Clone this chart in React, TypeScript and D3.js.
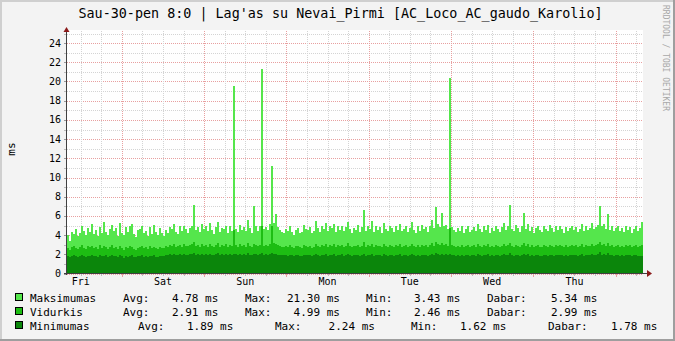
import React from "react";
import * as d3 from "d3";

const W = 675;
const H = 341;

const title = "Sau-30-pen 8:0 | Lag'as su Nevai_Pirmi [AC_Loco_AC_gaudo_Karolio]";
const yLabel = "ms";
const watermark = "RRDTOOL / TOBI OETIKER";

const maxSeries = [
  4.0, 3.43, 4.3, 4.1, 4.6, 3.9, 4.2, 4.9, 4.4, 4.0, 4.7, 4.3,
  5.2, 4.1, 4.5, 3.9, 4.8, 4.2, 5.4, 4.3, 4.0, 4.6, 5.1, 4.4,
  4.7, 3.9, 5.3, 4.2, 4.0, 4.8, 4.3, 4.9, 5.2, 4.1, 3.8, 4.5,
  4.6, 5.0, 4.2, 4.4, 3.9, 4.8, 4.1, 5.1, 4.3, 4.0, 4.7, 4.2,
  3.9, 4.5, 4.2, 4.8, 4.6, 5.2, 4.3, 4.1, 4.9, 4.4, 5.0, 4.6,
  4.2, 4.7, 5.0, 7.1, 4.5, 4.8, 4.3, 5.2, 4.6, 4.9, 4.4, 5.3,
  4.5, 4.1, 4.8, 5.4, 4.3, 4.7, 4.6, 5.0, 4.2, 4.9, 4.4, 19.5,
  4.6, 4.3, 5.1, 4.5, 4.8, 4.4, 5.6, 4.7, 4.2, 7.0, 5.0, 4.4,
  4.9, 21.3, 4.6, 4.8, 4.5, 5.2, 11.2, 5.3, 6.2, 4.8, 4.5, 4.3,
  4.2, 4.6, 4.4, 4.9, 4.3, 4.0, 4.5, 4.7, 4.2, 4.3, 5.1, 4.6,
  4.5, 4.8, 4.2, 4.4, 5.5, 4.7, 4.3, 5.0, 4.6, 5.3, 4.4, 4.9,
  4.7, 5.2, 4.3, 4.9, 4.5, 5.0, 4.4, 4.8, 5.4, 4.6, 4.2, 4.7,
  4.5, 5.1, 4.3, 4.8, 6.6, 4.4, 5.0, 4.6, 5.5, 4.3, 4.9, 4.5,
  4.8, 4.2, 5.3, 4.6, 4.4, 5.0, 4.7, 4.3, 4.9, 4.5, 5.2, 4.4,
  4.6, 5.0, 4.3, 4.7, 5.4, 4.5, 4.2, 4.9, 4.4, 5.1, 4.6, 4.8,
  4.3, 5.0, 5.6, 4.7, 6.9, 5.2, 4.8, 6.3, 4.9, 5.1, 4.6, 20.4,
  4.8, 4.5, 4.3, 4.7, 4.4, 5.0, 4.2, 4.6, 4.9, 4.3, 4.5, 4.8,
  4.4, 5.2, 4.6, 4.3, 4.9, 4.5, 5.1, 4.2, 4.7, 4.4, 5.0, 4.6,
  4.3, 4.8, 5.3, 4.5, 5.0, 7.1, 4.6, 4.4, 5.1, 4.7, 4.3, 4.9,
  6.3, 4.6, 5.2, 4.4, 4.8, 4.2, 4.7, 5.0, 4.5, 4.3, 4.9, 4.6,
  4.4, 5.1, 4.7, 4.3, 4.9, 4.5, 5.0, 4.6, 4.2, 4.8, 4.4, 4.7,
  5.0, 4.5, 4.8, 4.3, 4.6, 5.2, 4.4, 4.9, 4.5, 4.7, 5.3, 4.6,
  4.8, 5.1, 7.0, 4.9, 5.2, 4.6, 6.2, 4.5, 5.0, 4.4, 4.7, 4.9,
  4.4, 4.7, 4.3, 5.0, 4.5, 4.8, 4.2, 4.6, 4.9, 4.4, 4.7, 5.34,
];

const avgSeries = [
  2.7, 2.5, 2.8, 2.9, 2.7, 2.6, 2.8, 3.0, 2.7, 2.6, 2.9, 2.8,
  2.9, 2.7, 2.8, 2.6, 3.0, 2.7, 2.9, 2.8, 2.6, 2.8, 3.0, 2.7,
  2.8, 2.6, 2.9, 2.7, 2.5, 2.8, 2.7, 2.9, 2.8, 2.6, 2.46, 2.7,
  2.8, 2.9, 2.7, 2.8, 2.6, 2.9, 2.7, 2.8, 2.7, 2.6, 2.8, 2.7,
  2.7, 2.9, 2.8, 3.0, 2.9, 3.1, 2.8, 2.9, 3.0, 2.8, 3.1, 2.9,
  2.9, 3.0, 3.1, 3.3, 2.9, 3.0, 2.8, 3.1, 2.9, 3.0, 2.8, 3.1,
  2.9, 2.8, 3.0, 3.2, 2.8, 3.0, 2.9, 3.1, 2.8, 3.0, 2.9, 4.5,
  3.0, 2.8, 3.1, 2.9, 3.0, 2.8, 3.2, 2.9, 2.8, 3.1, 3.0, 2.9,
  3.0, 4.99, 2.9, 3.0, 2.9, 3.1, 4.9, 3.2, 3.1, 3.0, 2.9, 2.8,
  2.8, 2.9, 2.8, 3.0, 2.8, 2.7, 2.9, 2.9, 2.8, 2.7, 3.0, 2.9,
  2.8, 2.9, 2.7, 2.8, 3.1, 2.9, 2.8, 3.0, 2.9, 3.1, 2.8, 3.0,
  2.9, 3.1, 2.8, 3.0, 2.9, 3.0, 2.8, 2.9, 3.2, 2.9, 2.8, 2.9,
  2.9, 3.0, 2.8, 2.9, 3.3, 2.8, 3.0, 2.9, 3.1, 2.8, 3.0, 2.9,
  2.9, 2.8, 3.1, 2.9, 2.8, 3.0, 2.9, 2.8, 3.0, 2.9, 3.1, 2.8,
  2.9, 3.0, 2.8, 2.9, 3.1, 2.9, 2.8, 3.0, 2.8, 3.0, 2.9, 3.0,
  2.8, 3.0, 3.2, 2.9, 3.3, 3.1, 3.0, 3.2, 3.0, 3.1, 2.9, 4.7,
  3.0, 2.9, 2.8, 2.9, 2.8, 3.0, 2.8, 2.9, 3.0, 2.8, 2.9, 3.0,
  2.8, 3.1, 2.9, 2.8, 3.0, 2.9, 3.1, 2.8, 2.9, 2.8, 3.0, 2.9,
  2.8, 2.9, 3.1, 2.9, 3.0, 3.2, 2.9, 2.8, 3.0, 2.9, 2.8, 3.0,
  3.2, 2.9, 3.1, 2.8, 3.0, 2.8, 2.9, 3.0, 2.8, 2.8, 3.0, 2.9,
  2.8, 3.0, 2.9, 2.8, 3.0, 2.9, 3.0, 2.9, 2.8, 3.0, 2.8, 2.9,
  3.0, 2.9, 3.0, 2.8, 2.9, 3.1, 2.8, 3.0, 2.9, 2.9, 3.1, 2.9,
  3.0, 3.1, 3.3, 3.0, 3.1, 2.9, 3.2, 2.9, 3.0, 2.8, 2.9, 3.0,
  2.8, 2.9, 2.8, 3.0, 2.9, 3.0, 2.8, 2.9, 3.0, 2.8, 2.9, 2.99,
];

const minSeries = [
  1.8, 1.7, 1.8, 1.9, 1.8, 1.7, 1.8, 1.9, 1.8, 1.7, 1.8, 1.8,
  1.9, 1.8, 1.8, 1.7, 1.9, 1.8, 1.8, 1.9, 1.7, 1.8, 1.9, 1.8,
  1.8, 1.7, 1.9, 1.8, 1.62, 1.8, 1.7, 1.8, 1.9, 1.7, 1.7, 1.8,
  1.8, 1.9, 1.7, 1.8, 1.7, 1.8, 1.8, 1.9, 1.7, 1.7, 1.8, 1.8,
  1.8, 1.9, 1.9, 2.0, 1.9, 2.0, 1.9, 1.9, 2.0, 1.9, 2.0, 1.9,
  1.9, 2.0, 2.0, 2.1, 1.9, 2.0, 1.9, 2.0, 1.9, 2.0, 1.9, 2.0,
  1.9, 1.9, 2.0, 2.1, 1.9, 2.0, 1.9, 2.0, 1.9, 2.0, 1.9, 2.0,
  2.0, 1.9, 2.0, 1.9, 2.0, 1.9, 2.1, 1.9, 1.9, 2.0, 2.0, 1.9,
  2.0, 2.1, 1.9, 2.0, 1.9, 2.0, 2.1, 2.0, 2.0, 1.9, 1.9, 1.9,
  1.9, 1.9, 1.8, 1.9, 1.9, 1.8, 1.9, 1.9, 1.8, 1.8, 1.9, 1.9,
  1.9, 1.9, 1.8, 1.9, 2.0, 1.9, 1.8, 1.9, 1.9, 2.0, 1.8, 1.9,
  1.9, 2.0, 1.8, 1.9, 1.9, 2.0, 1.8, 1.9, 2.0, 1.9, 1.8, 1.9,
  1.9, 1.9, 1.8, 1.9, 2.0, 1.8, 1.9, 1.9, 2.0, 1.8, 1.9, 1.9,
  1.9, 1.8, 2.0, 1.9, 1.8, 1.9, 1.9, 1.8, 1.9, 1.9, 2.0, 1.8,
  1.9, 1.9, 1.8, 1.9, 2.0, 1.9, 1.8, 1.9, 1.8, 1.9, 1.9, 1.9,
  1.8, 1.9, 2.0, 1.9, 2.1, 2.0, 1.9, 2.0, 1.9, 2.0, 1.9, 2.0,
  1.9, 1.9, 1.8, 1.9, 1.8, 1.9, 1.8, 1.9, 1.9, 1.8, 1.9, 1.9,
  1.8, 2.0, 1.9, 1.8, 1.9, 1.9, 2.0, 1.8, 1.9, 1.8, 1.9, 1.9,
  1.8, 1.9, 2.0, 1.9, 1.9, 2.1, 1.9, 1.8, 1.9, 1.9, 1.8, 1.9,
  2.0, 1.9, 2.0, 1.8, 1.9, 1.8, 1.9, 1.9, 1.8, 1.8, 1.9, 1.9,
  1.8, 1.9, 1.9, 1.8, 1.9, 1.9, 1.9, 1.9, 1.8, 1.9, 1.8, 1.9,
  1.9, 1.9, 1.9, 1.8, 1.9, 2.0, 1.8, 1.9, 1.9, 1.9, 2.0, 1.9,
  1.9, 2.0, 2.24, 1.9, 2.0, 1.9, 2.1, 1.9, 1.9, 1.8, 1.9, 1.9,
  1.8, 1.9, 1.8, 1.9, 1.9, 1.9, 1.8, 1.9, 1.9, 1.8, 1.8, 1.78,
];

const seriesNames = ["Maksimumas", "Vidurkis", "Minimumas"];
const seriesColors = ["#55e64c", "#1dbd13", "#0b860b"];
const statAvg = ["4.78", "2.91", "1.89"];
const statMax = ["21.30", "4.99", "2.24"];
const statMin = ["3.43", "2.46", "1.62"];
const statCur = ["5.34", "2.99", "1.78"];
const unit = "ms";

const startTime = new Date(Date.UTC(2015, 0, 23, 8));
const endTime = new Date(Date.UTC(2015, 0, 30, 8));
const yMax = 25;

// layout
const X0 = 67;
const X1 = 643;
const Y0 = 273.5;
const YTOP = 33.5;
const FONT = "'DejaVu Sans Mono', monospace";

// legend column positions (row 1/2 and row 3)
const colsA = [30, 123, 172, 245, 287, 366, 414, 487, 551];
const colsB = [30, 138, 187, 275, 322, 411, 460, 548, 611];

export default function App() {
  const x = d3.scaleUtc().domain([startTime, endTime]).range([X0, X1]);
  const y = d3.scaleLinear().domain([0, yMax]).range([Y0, YTOP]);
  const n = maxSeries.length;
  const step = (endTime.getTime() - startTime.getTime()) / n;

  const toPts = (arr: number[]) => {
    const pts = arr.map((v, i) => ({ t: startTime.getTime() + i * step, v }));
    pts.push({ t: endTime.getTime(), v: arr[arr.length - 1] });
    return pts;
  };
  const area = d3
    .area<{ t: number; v: number }>()
    .x((d) => x(new Date(d.t)))
    .y0(y(0))
    .y1((d) => y(d.v))
    .curve(d3.curveStepAfter);

  const yTicks = d3.range(0, yMax + 1, 1);
  const majorX = d3.utcDay.range(new Date(startTime.getTime() + 1), endTime);
  const minorX = d3.utcHour
    .every(6)!
    .range(new Date(startTime.getTime() + 1), endTime)
    .filter((d) => d.getUTCHours() !== 0);
  const labelDays = d3
    .utcDay.range(d3.utcDay.floor(startTime), endTime)
    .map((d) => new Date(d.getTime() + 12 * 3600 * 1000))
    .filter((d) => d >= startTime && d <= endTime);
  const fmt = d3.utcFormat("%a");

  const legendRow = (k: number) => {
    const cols = k === 2 ? colsB : colsA;
    const maxStr = statMax[k].length > 4 ? statMax[k] : " " + statMax[k];
    const pieces = [
      seriesNames[k],
      "Avg:",
      `${statAvg[k]} ${unit}`,
      "Max:",
      `${maxStr} ${unit}`,
      "Min:",
      `${statMin[k]} ${unit}`,
      "Dabar:",
      `${statCur[k]} ${unit}`,
    ];
    const cy = 297.5 + k * 14.2;
    return (
      <g key={k}>
        <rect x={15.5} y={cy - 4} width={7} height={7} fill={seriesColors[k]} stroke="#000" strokeWidth={1} shapeRendering="crispEdges" />
        {pieces.map((p, j) => (
          <text key={j} x={cols[j]} y={cy + 4} fontFamily={FONT} fontSize={11} fill="#000" style={{ whiteSpace: "pre" }}>
            {p}
          </text>
        ))}
      </g>
    );
  };

  return (
    <svg width={W} height={H} style={{ position: "absolute", left: 0, top: 0, display: "block" }}>
      <rect x={0} y={0} width={W} height={H} fill="#f3f3f3" />
      {/* shade borders */}
      <rect x={0} y={0} width={W} height={2} fill="#cfcfcf" />
      <rect x={0} y={0} width={2} height={H} fill="#cfcfcf" />
      <rect x={0} y={H - 2} width={W} height={2} fill="#9e9e9e" />
      <rect x={W - 2} y={0} width={2} height={H} fill="#9e9e9e" />

      {/* canvas */}
      <rect x={X0} y={30} width={X1 - X0} height={Y0 - 30} fill="#ffffff" />

      {/* grid */}
      <g shapeRendering="crispEdges">
        {yTicks.map((v) => (
          <line
            key={"gy" + v}
            x1={X0}
            x2={X1}
            y1={Math.round(y(v)) + 0.5}
            y2={Math.round(y(v)) + 0.5}
            stroke={v % 2 === 0 ? "#e8a0a0" : "#d4d4d4"}
            strokeDasharray="1,1"
          />
        ))}
        {minorX.map((d, i) => (
          <line key={"mx" + i} x1={Math.round(x(d)) + 0.5} x2={Math.round(x(d)) + 0.5} y1={YTOP - 3} y2={Y0} stroke="#d4d4d4" strokeDasharray="1,1" />
        ))}
        {majorX.map((d, i) => (
          <line key={"Mx" + i} x1={Math.round(x(d)) + 0.5} x2={Math.round(x(d)) + 0.5} y1={YTOP - 3} y2={Y0} stroke="#e8a0a0" strokeDasharray="1,1" />
        ))}
      </g>

      {/* areas */}
      <g shapeRendering="crispEdges">
        <path d={area(toPts(maxSeries)) || ""} fill={seriesColors[0]} />
        <path d={area(toPts(avgSeries)) || ""} fill={seriesColors[1]} />
        <path d={area(toPts(minSeries)) || ""} fill={seriesColors[2]} />
      </g>

      {/* axis ticks */}
      <g shapeRendering="crispEdges">
        {yTicks.map((v) => (
          <line key={"ty" + v} x1={X0 - 3} x2={X0} y1={Math.round(y(v)) + 0.5} y2={Math.round(y(v)) + 0.5} stroke={v % 2 === 0 ? "#999" : "#bbb"} />
        ))}
        {majorX.map((d, i) => (
          <line key={"tx" + i} x1={Math.round(x(d)) + 0.5} x2={Math.round(x(d)) + 0.5} y1={Y0} y2={Y0 + 3} stroke="#e8a0a0" />
        ))}
        {minorX.map((d, i) => (
          <line key={"tmx" + i} x1={Math.round(x(d)) + 0.5} x2={Math.round(x(d)) + 0.5} y1={Y0} y2={Y0 + 2} stroke="#bbb" />
        ))}
        <line x1={X0 - 0.5} x2={X0 - 0.5} y1={Y0 + 1} y2={29} stroke="#404040" />
        <line x1={X0 - 3} x2={648} y1={Y0} y2={Y0} stroke="#404040" />
      </g>
      <path d={`M647,270L652,${Y0}L647,277Z`} fill="#8b1a1a" />
      <path d={`M63.5,32L${X0 - 0.5},27L69.5,32Z`} fill="#8b1a1a" />

      {/* y labels */}
      {yTicks
        .filter((v) => v % 2 === 0)
        .map((v) => (
          <text key={"yl" + v} x={61} y={y(v) + 3.5} textAnchor="end" fontFamily={FONT} fontSize={10} fill="#000">
            {v}
          </text>
        ))}
      {/* x labels */}
      {labelDays.map((d, i) => (
        <text key={"xl" + i} x={x(d)} y={285} textAnchor="middle" fontFamily={FONT} fontSize={10} fill="#000">
          {fmt(d)}
        </text>
      ))}

      <text x={0} y={0} transform="translate(15,149) rotate(-90)" textAnchor="middle" fontFamily={FONT} fontSize={11} fill="#000">
        {yLabel}
      </text>

      <text x={340.5} y={18} textAnchor="middle" fontFamily={FONT} fontSize={13.4} fill="#000" style={{ whiteSpace: "pre" }}>
        {title}
      </text>

      <text x={0} y={0} transform="translate(663,5) rotate(90)" fontFamily={FONT} fontSize={8} fill="#a8a8a8">
        {watermark}
      </text>

      {[0, 1, 2].map((k) => legendRow(k))}
    </svg>
  );
}
